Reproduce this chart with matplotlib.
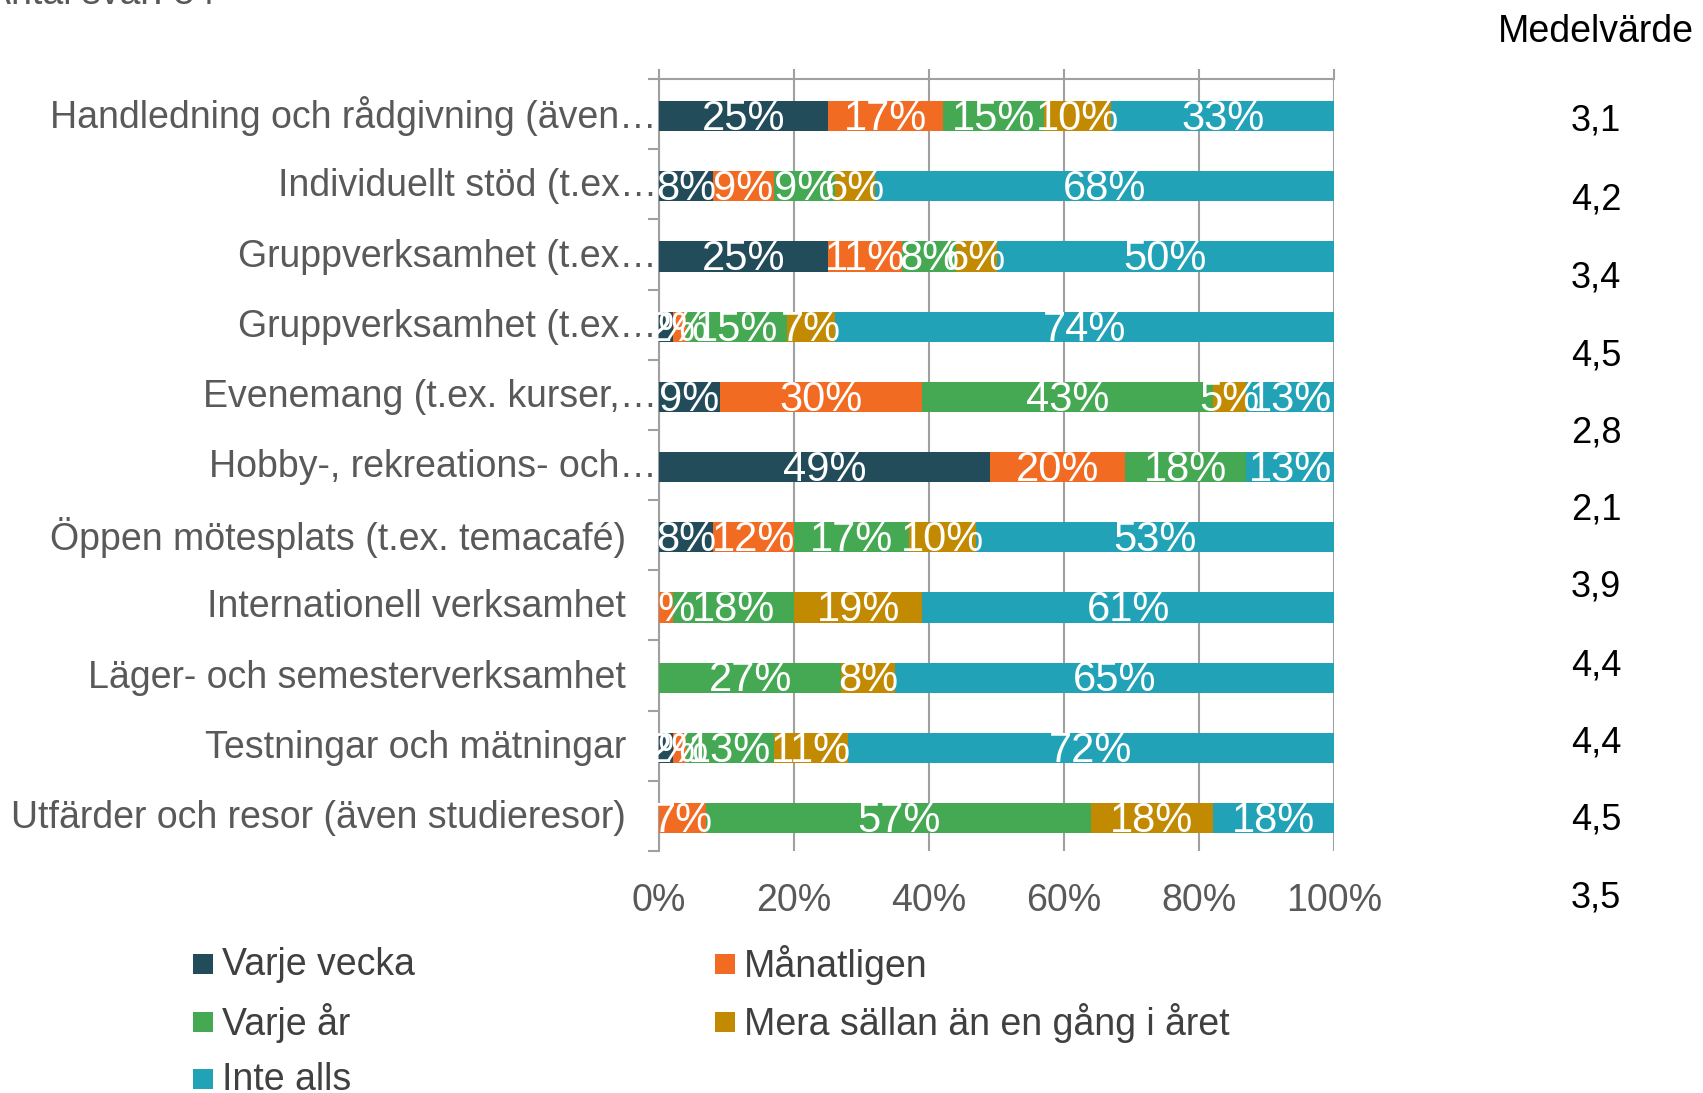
import numpy as np
import matplotlib
matplotlib.use("Agg")
import matplotlib.pyplot as plt
from matplotlib.patches import Rectangle

plt.rcParams['font.family'] = ['Liberation Sans', 'DejaVu Sans']

# ── Data ───────────────────────────────────────────────────────────────────
kategorier = [
    "Handledning och rådgivning (även…",
    "Individuellt stöd (t.ex…",
    "Gruppverksamhet (t.ex…",
    "Gruppverksamhet (t.ex…",
    "Evenemang (t.ex. kurser,…",
    "Hobby-, rekreations- och…",
    "Öppen mötesplats (t.ex. temacafé)",
    "Internationell verksamhet",
    "Läger- och semesterverksamhet",
    "Testningar och mätningar",
    "Utfärder och resor (även studieresor)",
]
serier = ["Varje vecka", "Månatligen", "Varje år",
          "Mera sällan än en gång i året", "Inte alls"]
varje_vecka = [25, 8, 25, 2, 9, 49, 8, 0, 0, 2, 0]
manatligen  = [17, 9, 11, 2, 30, 20, 12, 2, 0, 2, 7]
varje_ar    = [15, 9, 8, 15, 43, 18, 17, 18, 27, 13, 57]
mera_sallan = [10, 6, 6, 7, 5, 0, 10, 19, 8, 11, 18]
inte_alls   = [33, 68, 50, 74, 13, 13, 53, 61, 65, 72, 18]
medelvarde  = ["3,1", "4,2", "3,4", "4,5", "2,8", "2,1", "3,9", "4,4", "4,4", "4,5", "3,5"]
antal_svar  = "Antal svar: 84"

FARGER = ['#234C5B', '#F26B23', '#45A853', '#C28A00', '#22A2B7']
GRA    = '#595959'
W, H   = 1703, 1093

fig = plt.figure(figsize=(W / 100, H / 100), dpi=100)
ax = fig.add_axes([659 / W, 1 - 851 / H, (1334 - 659) / W, (851 - 79) / H])

data = np.array([varje_vecka, manatligen, varje_ar, mera_sallan, inte_alls])
y = np.arange(len(kategorier)) + 0.03
left = np.zeros(len(kategorier))
for vals, farg, namn in zip(data, FARGER, serier):
    ax.barh(y, vals, left=left, height=0.43, color=farg, label=namn, zorder=3)
    for yi, v, l in zip(y, vals, left):
        if v > 0:
            ax.text(l + v / 2, yi + 0.04, f"{v}%", ha='center', va='center',
                    color='white', fontsize=30, zorder=4)
    left += vals

ax.set_xlim(0, 100)
ax.set_ylim(len(kategorier) - 0.5, -0.5)
ax.set_xticks(np.arange(0, 101, 20))
ax.set_xticklabels([f"{v}%" for v in range(0, 101, 20)], fontsize=27, color=GRA)
ax.tick_params(axis='x', bottom=False, top=True, length=7, width=1.5,
               color='#A0A0A0', pad=16, labelbottom=True, labeltop=False)
ax.grid(axis='x', color='#A0A0A0', linewidth=1.5, zorder=0)

# kategoriaxel med streck mellan staplarna
ax.set_yticks(np.arange(-0.5, len(kategorier)))
ax.set_yticklabels([])
ax.tick_params(axis='y', length=8, width=1.5, color='#A0A0A0')
for yi, txt in zip(y, kategorier):
    x_ax = -2 / 675 if txt.endswith('…') else -33 / 675
    ax.text(x_ax, yi, txt, transform=ax.get_yaxis_transform(),
            ha='right', va='center', fontsize=27, color=GRA)

for s in ['right', 'bottom']:
    ax.spines[s].set_visible(False)
for s in ['left', 'top']:
    ax.spines[s].set_color('#A0A0A0')
    ax.spines[s].set_linewidth(1.5)

# medelvärden till höger
fig.text(1596 / W, 1 - 32 / H, "Medelvärde", ha='center', va='center',
         fontsize=27, color='black')
medel_y = [121, 200, 278, 356, 433, 510, 587, 666, 743, 820, 898]
for yy, txt in zip(medel_y, medelvarde):
    fig.text(1596 / W, 1 - yy / H, txt, ha='center', va='center',
             fontsize=26, color='black')

# titel (avskuren i överkant)
fig.text(-14 / W, 1 - 4 / H, antal_svar, ha='left', va='baseline',
         fontsize=27, color=GRA)

# förklaring, radvis i två kolumner
kol_x = [193, 715]
rad_y = [965, 1023, 1080]
for i, (namn, farg) in enumerate(zip(serier, FARGER)):
    xx, yy = kol_x[i % 2], rad_y[i // 2]
    fig.patches.append(Rectangle((xx / W, 1 - (yy + 9) / H), 20 / W, 20 / H,
                                 transform=fig.transFigure, facecolor=farg,
                                 edgecolor='none'))
    fig.text((xx + 29) / W, 1 - yy / H, namn, ha='left', va='center',
             fontsize=27, color='#404040')

fig.savefig("out.png", dpi=100)
